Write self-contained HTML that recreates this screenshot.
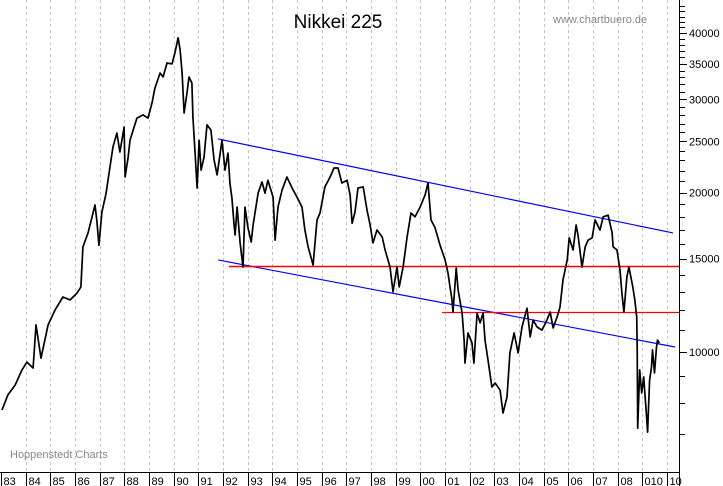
<!DOCTYPE html>
<html><head><meta charset="utf-8"><style>
html,body{margin:0;padding:0;background:#fff;}
svg{display:block;font-family:"Liberation Sans",Arial,sans-serif;}
</style></head><body>
<svg id="chart" width="723" height="486" viewBox="0 0 723 486" xmlns="http://www.w3.org/2000/svg">
<rect x="0" y="0" width="723" height="486" fill="#fff"/>
<g id="grid"></g>
<g id="lines"></g>
<g id="series"></g>
<g id="axes"></g>
<text x="338" y="28" font-size="19" text-anchor="middle" fill="#000">Nikkei 225</text>
<text x="553" y="23" font-size="11" fill="#888">www.chartbuero.de</text>
<text x="10" y="458" font-size="11" fill="#888">Hoppenstedt Charts</text>
</svg>
<script>
const years = [1983.04,1983.28,1983.57,1983.85,1984.05,1984.30,1984.42,1984.62,1984.91,1985.19,1985.51,1985.80,1986.08,1986.24,1986.32,1986.53,1986.81,1986.89,1986.97,1987.09,1987.26,1987.38,1987.54,1987.70,1987.82,1987.99,1988.03,1988.15,1988.23,1988.51,1988.76,1988.96,1989.12,1989.24,1989.45,1989.57,1989.73,1989.93,1990.05,1990.18,1990.26,1990.34,1990.42,1990.54,1990.62,1990.74,1990.78,1990.86,1990.95,1991.03,1991.11,1991.23,1991.35,1991.51,1991.64,1991.76,1991.96,1992.08,1992.20,1992.28,1992.36,1992.45,1992.49,1992.57,1992.69,1992.81,1992.89,1993.01,1993.14,1993.22,1993.42,1993.58,1993.70,1993.82,1994.03,1994.11,1994.23,1994.39,1994.59,1994.80,1995.00,1995.20,1995.32,1995.45,1995.65,1995.81,1995.93,1996.13,1996.34,1996.50,1996.66,1996.82,1997.03,1997.15,1997.23,1997.35,1997.47,1997.68,1997.84,1997.96,1998.08,1998.24,1998.45,1998.57,1998.77,1998.89,1999.05,1999.14,1999.30,1999.46,1999.62,1999.78,1999.99,2000.19,2000.31,2000.43,2000.59,2000.80,2001.00,2001.12,2001.20,2001.28,2001.32,2001.45,2001.53,2001.69,2001.77,2001.81,2001.93,2002.09,2002.17,2002.30,2002.42,2002.54,2002.62,2002.74,2002.90,2003.03,2003.23,2003.35,2003.51,2003.63,2003.80,2003.96,2004.12,2004.32,2004.45,2004.57,2004.73,2004.93,2005.13,2005.26,2005.38,2005.54,2005.66,2005.78,2005.95,2006.03,2006.19,2006.31,2006.39,2006.55,2006.68,2006.80,2006.96,2007.08,2007.28,2007.41,2007.61,2007.77,2007.81,2007.97,2008.09,2008.17,2008.25,2008.37,2008.45,2008.61,2008.69,2008.77,2008.79,2008.81,2008.89,2008.97,2009.05,2009.17,2009.21,2009.29,2009.37,2009.41,2009.49,2009.57,2009.61,2009.69];
const closes = [7770,8300,8660,9250,9570,9330,11250,9740,11250,12000,12700,12540,12920,13270,15780,16800,18950,17600,15900,18370,19950,21800,24400,25900,23860,26600,21400,23300,25100,27650,28030,27650,29530,31500,33640,33050,35130,35000,36700,39200,37200,33640,28270,30840,33050,32200,27800,24070,20400,25100,22050,23300,26850,26250,23040,21600,25100,22050,23750,20850,19550,17370,16630,18780,16070,14470,18780,17200,16130,17370,19950,20950,19950,21100,19600,16270,18780,20200,21400,20400,19600,18780,17000,15800,14600,17750,18300,20500,21400,22260,22260,20850,21100,19800,17500,18370,20400,20500,18500,17370,16070,17000,16490,15580,14470,13000,14470,13270,14470,16490,18300,18000,18780,19800,20850,17750,17200,15900,14920,14100,13270,12540,11900,14400,13100,11850,10530,9530,10860,10400,9530,11850,11350,11850,10530,9660,8590,8740,8470,7670,8220,9960,10860,9960,11150,12100,10680,11490,11150,11000,11490,11900,11100,11650,12160,13680,14920,16420,15580,17370,16630,14470,15800,16270,16420,17750,17000,18000,18130,16800,15800,15580,14280,12920,11900,13860,14470,13270,12540,11650,10220,7180,9250,8370,8970,7540,7060,8850,9370,10090,9130,10220,10530,10400];
const upperTrend = [[1991.80,25250],[2010.24,16780]];
const lowerTrend = [[1991.80,14920],[2010.32,10220]];
const supportLines = [[1992.24,14530],[2000.88,11920]];
const yTickLabels = [10000,15000,20000,25000,30000,35000,40000];
const xTickLabels = ["83","84","85","86","87","88","89","90","91","92","93","94","95","96","97","98","99","00","01","02","03","04","05","06","07","08","010","10"];
const firstYear = 1983;

const NS="http://www.w3.org/2000/svg";
const X0=1, PX_PER_YEAR=24.67, Y10K=352, PX_PER_LN=230, AXIS_X=679, AXIS_Y=472;
function xScale(t){return X0+(t-firstYear)*PX_PER_YEAR;}
function yScale(v){return Y10K-PX_PER_LN*Math.log(v/10000);}
function mk(tag,attrs,parent){const e=document.createElementNS(NS,tag);for(const k in attrs)e.setAttribute(k,attrs[k]);parent.appendChild(e);return e;}

const grid=document.getElementById('grid'), axes=document.getElementById('axes'), lines=document.getElementById('lines'), series=document.getElementById('series');

xTickLabels.forEach((lab,i)=>{
  const x=Math.round(xScale(firstYear+i))+0.5;
  if(i>0){
    const g=mk('line',{x1:x,y1:0,x2:x,y2:AXIS_Y,stroke:'#c4c4c4','stroke-width':1,'stroke-dasharray':'3,3'},grid);
    
    
  }
  const t=mk('line',{x1:x,y1:AXIS_Y,x2:x,y2:486,stroke:'#000','stroke-width':1},axes);
  
  
  const tx=mk('text',{x:x+2,y:485,'font-size':11,fill:'#000'},axes);
  tx.textContent=lab;
  
  
});

const xa=mk('line',{x1:0,y1:AXIS_Y+0.5,x2:AXIS_X,y2:AXIS_Y+0.5,stroke:'#000','stroke-width':1},axes);


const ya=mk('line',{x1:AXIS_X+0.5,y1:0,x2:AXIS_X+0.5,y2:486,stroke:'#000','stroke-width':1},axes);



for(let v=7000;v<=45000;v+=1000){
  const y=Math.round(yScale(v))+0.5;
  const major=yTickLabels.indexOf(v)>=0;
  const m=mk('line',{x1:AXIS_X,y1:y,x2:AXIS_X+(major?8:6),y2:y,stroke:'#000','stroke-width':1},axes);
  
  
}
yTickLabels.forEach(v=>{
  const y=yScale(v);
  const t=mk('text',{x:689,y:y+4,'font-size':11,fill:'#000'},axes);
  t.textContent=String(v);
  
  
});

[upperTrend,lowerTrend].forEach((seg,i)=>{
  const l=mk('line',{x1:xScale(seg[0][0]),y1:yScale(seg[0][1]),x2:xScale(seg[1][0]),y2:yScale(seg[1][1]),stroke:'#0000ff','stroke-width':1.2},lines);
  
  
});
supportLines.forEach((s,i)=>{
  const y=Math.round(yScale(s[1]))+0.5;
  const l=mk('line',{x1:xScale(s[0]),y1:y,x2:AXIS_X,y2:y,stroke:'#ff0000','stroke-width':i===0?1.6:1.3},lines);
  
  
});

const pts=years.map((t,i)=>xScale(t).toFixed(1)+','+yScale(closes[i]).toFixed(1)).join(' ');
const pl=mk('polyline',{points:pts,fill:'none',stroke:'#000','stroke-width':1.7,'stroke-linejoin':'round'},series);


</script>
</body></html>
